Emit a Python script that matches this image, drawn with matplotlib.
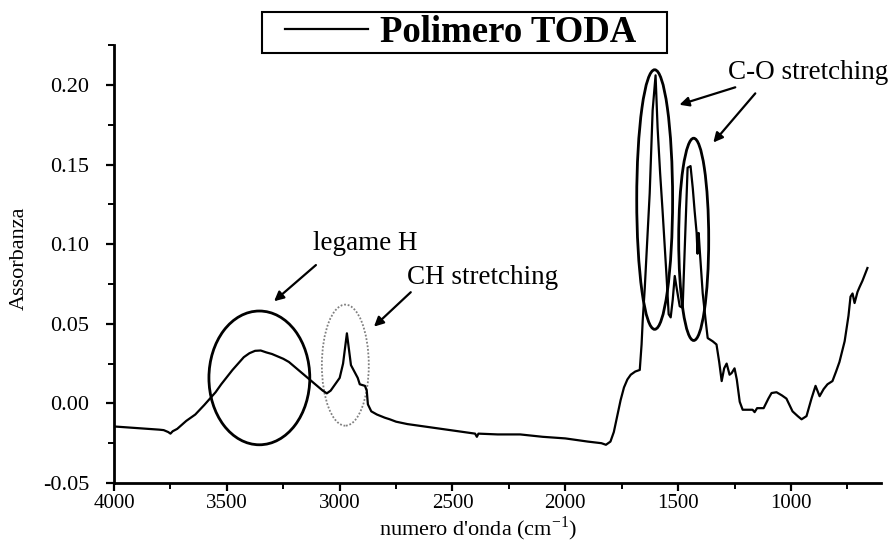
import matplotlib.pyplot as plt
from matplotlib.patches import Ellipse, Rectangle

# Spettro IR (numero d'onda, assorbanza)
numero_onda = [
    4000, 3950, 3900, 3850, 3800, 3780, 3760, 3750, 3740, 3720, 3700, 3680,
    3660, 3640, 3620, 3600, 3575, 3550, 3525, 3500, 3475, 3450, 3425, 3400,
    3375, 3350, 3325, 3300, 3275, 3250, 3225, 3200, 3175, 3150, 3125, 3100,
    3075, 3057, 3040, 3020, 3000, 2985, 2975, 2968, 2960, 2950, 2935, 2920,
    2911, 2888, 2880, 2875, 2860, 2835, 2800, 2778, 2750, 2700, 2600, 2500,
    2400, 2392, 2385, 2300, 2200, 2100, 2000, 1900, 1840, 1820, 1800, 1785,
    1770, 1755, 1740, 1725, 1710, 1690, 1670, 1662, 1657, 1648, 1636, 1626,
    1613, 1600, 1591, 1580, 1569, 1551, 1542, 1533, 1524, 1515, 1506, 1493,
    1480, 1470, 1458, 1445, 1435, 1427, 1418, 1414, 1409, 1405, 1391, 1378,
    1369, 1347, 1330, 1318, 1307, 1296, 1285, 1272, 1263, 1250, 1240, 1227,
    1214, 1190, 1170, 1161, 1150, 1121, 1100, 1086, 1064, 1040, 1020, 993,
    970, 953, 931, 909, 891, 873, 855, 838, 816, 800, 785, 762,
    745, 736, 727, 718, 705, 696, 683, 661,
]
assorbanza = [
    -0.0145, -0.015, -0.0155, -0.016, -0.0165, -0.0168, -0.018, -0.019, -0.0175, -0.016, -0.0135, -0.011,
    -0.009, -0.007, -0.004, -0.001, 0.003, 0.007, 0.012, 0.0165, 0.021, 0.025, 0.029, 0.0315,
    0.033, 0.0332, 0.032, 0.031, 0.0295, 0.028, 0.026, 0.023, 0.020, 0.017, 0.014, 0.011,
    0.008, 0.0063, 0.008, 0.012, 0.016, 0.025, 0.036, 0.044, 0.035, 0.024, 0.020, 0.016,
    0.012, 0.011, 0.008, -0.0006, -0.005, -0.007, -0.009, -0.010, -0.0115, -0.013, -0.015, -0.017,
    -0.019, -0.021, -0.019, -0.0195, -0.0195, -0.021, -0.022, -0.024, -0.025, -0.026, -0.024, -0.018,
    -0.008, 0.002, 0.010, 0.015, 0.018, 0.020, 0.021, 0.037, 0.052, 0.072, 0.105, 0.132,
    0.184, 0.206, 0.173, 0.145, 0.121, 0.079, 0.056, 0.054, 0.065, 0.080, 0.072, 0.061,
    0.060, 0.100, 0.148, 0.149, 0.135, 0.121, 0.107, 0.094, 0.107, 0.098, 0.069, 0.052,
    0.041, 0.039, 0.037, 0.026, 0.014, 0.022, 0.025, 0.018, 0.019, 0.022, 0.015, 0.001,
    -0.004, -0.004, -0.004, -0.0055, -0.003, -0.003, 0.003, 0.0065, 0.007, 0.005, 0.003, -0.005,
    -0.008, -0.010, -0.008, 0.003, 0.011, 0.0045, 0.009, 0.012, 0.014, 0.020, 0.026, 0.039,
    0.055, 0.067, 0.069, 0.063, 0.070, 0.073, 0.077, 0.085,
]

# Ellissi che evidenziano le bande: (centro x, centro y, larghezza, altezza)
ellissi_bande = [
    (3356, 0.016, 447, 0.084),    # legame H
    (1604, 0.128, 159, 0.163),    # C-O 1
    (1431, 0.103, 133, 0.127),    # C-O 2
]
ellisse_ch = (2975, 0.024, 208, 0.076)

plt.rcParams['font.family'] = ['Liberation Serif', 'DejaVu Serif']
plt.rcParams['mathtext.fontset'] = 'custom'
plt.rcParams['mathtext.rm'] = 'Liberation Serif'

fig = plt.figure(figsize=(8.91, 5.43), dpi=100)
ax = fig.add_axes([0.128, 0.1105, 0.861, 0.8065])

ax.plot(numero_onda, assorbanza, color='black', linewidth=1.6, label="Polimero TODA")

for cx, cy, w, h in ellissi_bande:
    ax.add_patch(Ellipse((cx, cy), w, h, fill=False, edgecolor='black', linewidth=2))
cx, cy, w, h = ellisse_ch
ax.add_patch(Ellipse((cx, cy), w, h, fill=False, edgecolor='#808080',
                     linewidth=1.3, linestyle=(0, (1, 1))))

# Etichette con frecce
freccia = dict(arrowstyle='-|>', color='black', linewidth=1.6, mutation_scale=14)
ax.text(2888, 0.1005, "legame H", fontsize=19.5, ha='center', va='center')
ax.annotate("", xy=(3300, 0.063), xytext=(3096, 0.088), arrowprops=freccia)
ax.text(2366, 0.079, "CH stretching", fontsize=19.5, ha='center', va='center')
ax.annotate("", xy=(2857, 0.047), xytext=(2676, 0.071), arrowprops=freccia)
ax.text(925, 0.208, "C-O stretching", fontsize=19.5, ha='center', va='center')
ax.annotate("", xy=(1506, 0.187), xytext=(1235, 0.199), arrowprops=freccia)
ax.annotate("", xy=(1352, 0.1625), xytext=(1150, 0.196), arrowprops=freccia)

ax.set_xlim(4000, 600)
ax.set_ylim(-0.05, 0.225)
ax.set_xticks([4000, 3500, 3000, 2500, 2000, 1500, 1000])
ax.set_xticks([3750, 3250, 2750, 2250, 1750, 1250, 750], minor=True)
ax.set_yticks([-0.05, 0.00, 0.05, 0.10, 0.15, 0.20])
ax.set_yticks([-0.025, 0.025, 0.075, 0.125, 0.175, 0.225], minor=True)
ax.yaxis.set_major_formatter(plt.FormatStrFormatter('%.2f'))

for lato in ['top', 'right']:
    ax.spines[lato].set_visible(False)
for lato in ['left', 'bottom']:
    ax.spines[lato].set_linewidth(2)
ax.tick_params(which='major', direction='out', length=6, width=1.6)
ax.tick_params(which='minor', direction='out', length=4, width=1.4)
ax.tick_params(axis='x', which='major', labelsize=15, pad=2)
ax.tick_params(axis='y', which='major', labelsize=16, pad=12)

ax.set_xlabel("numero d'onda (cm$^{\\mathregular{-1}}$)", fontsize=16, va='center')
ax.xaxis.set_label_coords(0.475, -0.105)
ax.set_ylabel("Assorbanza", fontsize=16, va='center')
ax.yaxis.set_label_coords(-0.124, 0.514)

# Legenda con riquadro disegnato a parte
leg = ax.legend(loc='center', bbox_to_anchor=(0.517, 0.941), bbox_transform=fig.transFigure,
                prop={'family': 'Liberation Serif', 'weight': 'bold', 'size': 26.5},
                handlelength=2.25, handletextpad=0.33, frameon=False, borderpad=0.1)
fig.patches.append(Rectangle((262 / 891, 1 - 53 / 543), 405 / 891, 41 / 543,
                             transform=fig.transFigure, fill=False,
                             edgecolor='black', linewidth=1.5))

fig.savefig("out.png", dpi=100)
